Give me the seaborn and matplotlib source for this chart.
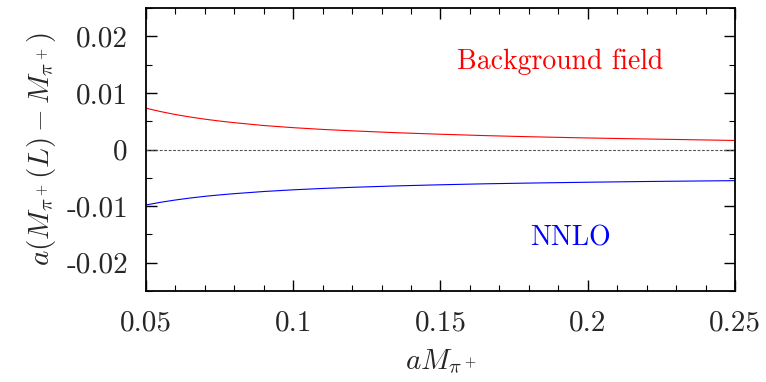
import matplotlib
matplotlib.use("Agg")
import matplotlib.pyplot as plt
import seaborn as sns
import pandas as pd
from matplotlib.ticker import MultipleLocator, FixedLocator, FixedFormatter

# data
x_vals = [0.05, 0.055, 0.06, 0.065, 0.07, 0.075, 0.08, 0.09, 0.10, 0.11, 0.12, 0.135, 0.15, 0.165, 0.18, 0.20, 0.22, 0.25]
bg_field = [0.0073, 0.0067, 0.00618, 0.00574, 0.00536, 0.00503, 0.00474, 0.00424, 0.00386, 0.00355, 0.0033,
            0.00297, 0.0027, 0.00246, 0.00226, 0.00204, 0.00186, 0.0016]
nnlo = [-0.0098, -0.00932, -0.00892, -0.00857, -0.00827, -0.00802, -0.00780, -0.00742, -0.00712, -0.00688, -0.00668,
        -0.00643, -0.00623, -0.00606, -0.00593, -0.00578, -0.00565, -0.0055]
y_ticks = [-0.02, -0.01, 0.0, 0.01, 0.02]
y_tick_labels = ["-0.02", "-0.01", "0", "0.01", "0.02"]
x_ticks = [0.05, 0.1, 0.15, 0.2, 0.25]
x_tick_labels = ["0.05", "0.1", "0.15", "0.2", "0.25"]

sns.set_style("ticks")
plt.rcParams["font.family"] = ["cmr10", "DejaVu Serif"]
plt.rcParams["mathtext.fontset"] = "cm"
plt.rcParams["axes.formatter.use_mathtext"] = True

df = pd.DataFrame({
    "x": x_vals * 2,
    "y": bg_field + nnlo,
    "series": ["Background field"] * len(x_vals) + ["NNLO"] * len(x_vals),
})

fig = plt.figure(figsize=(7.66, 3.82), dpi=100)
ax = fig.add_axes([0.1906, 0.2382, 0.7689, 0.7408])

sns.lineplot(data=df, x="x", y="y", hue="series",
             palette={"Background field": "#ff0000", "NNLO": "#0000ff"},
             linewidth=0.8, legend=False, ax=ax)
ax.axhline(0, color="#555555", linestyle=(0, (2.5, 1.5)), linewidth=0.8)

ax.set_xlim(0.05, 0.25)
ax.set_ylim(-0.025, 0.025)

ax.xaxis.set_major_locator(FixedLocator(x_ticks))
ax.xaxis.set_major_formatter(FixedFormatter(x_tick_labels))
ax.xaxis.set_minor_locator(MultipleLocator(0.01))
ax.yaxis.set_major_locator(FixedLocator(y_ticks))
ax.yaxis.set_major_formatter(FixedFormatter(y_tick_labels))
ax.yaxis.set_minor_locator(MultipleLocator(0.005))

ax.tick_params(which="both", direction="in", top=True, right=True,
               color="black", labelsize=21)
ax.tick_params(which="major", length=8, width=1.0)
ax.tick_params(axis="x", which="major", pad=14)
ax.tick_params(axis="y", which="major", pad=13)
ax.tick_params(which="minor", length=4.5, width=0.8)
for s in ax.spines.values():
    s.set_linewidth(1.3)
    s.set_color("black")

ax.set_xlabel(r"$aM_{\pi^+}$", fontsize=21, labelpad=8)
ax.set_ylabel(r"$a(M_{\pi^+}(L) - M_{\pi^+})$", fontsize=21, labelpad=6)

ax.text(0.1906, 0.0155, "Background field", color="#ff0000", fontsize=20,
        ha="center", va="center")
ax.text(0.194, -0.0157, "NNLO", color="#0000ff", fontsize=20,
        ha="center", va="center")

fig.savefig("out.png", dpi=100)
